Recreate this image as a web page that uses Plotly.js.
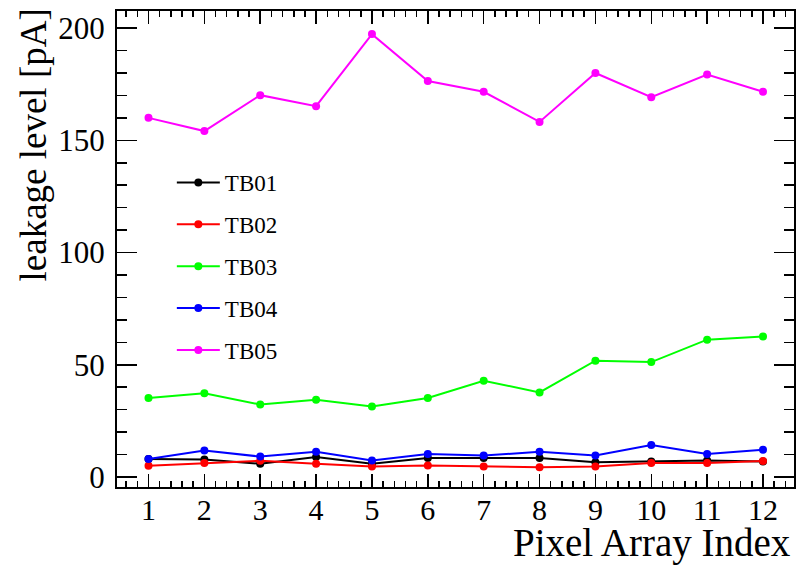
<!DOCTYPE html>
<html>
<head>
<meta charset="utf-8">
<script src="https://cdn.plot.ly/plotly-3.0.1.min.js"></script>
<style>html,body{margin:0;padding:0;background:#fff;}#chart{width:800px;height:566px;}</style>
</head>
<body>
<div id="chart"></div>
<script>
const pixelIndex = [1,2,3,4,5,6,7,8,9,10,11,12];
const xTickLabels = ["1","2","3","4","5","6","7","8","9","10","11","12"];
const seriesNames = ["TB01","TB02","TB03","TB04","TB05"];
const seriesColors = ["#000000","#ff0000","#00ff00","#0000ff","#ff00ff"];
const tb01 = [8.0, 7.8, 5.9, 8.9, 5.9, 8.5, 8.5, 8.5, 6.6, 6.9, 7.4, 6.9];
const tb02 = [5.0, 6.2, 7.2, 5.9, 4.7, 5.1, 4.7, 4.4, 4.7, 6.2, 6.2, 7.1];
const tb03 = [35.2, 37.3, 32.3, 34.4, 31.4, 35.2, 42.9, 37.7, 51.8, 51.2, 61.2, 62.6];
const tb04 = [8.0, 11.8, 9.1, 11.2, 7.4, 10.3, 9.6, 11.2, 9.6, 14.3, 10.3, 12.1];
const tb05 = [160.0, 154.1, 170.1, 165.2, 197.3, 176.4, 171.6, 158.2, 180.0, 169.2, 179.3, 171.6];
const allSeries = [tb01, tb02, tb03, tb04, tb05];

const font = "Liberation Serif, Times New Roman, serif";

const traces = allSeries.map((vals, i) => ({
  x: pixelIndex,
  y: vals,
  type: "scatter",
  mode: "lines+markers",
  name: seriesNames[i],
  legendgroup: "g" + i,
  line: {color: seriesColors[i], width: 2},
  marker: {color: seriesColors[i], size: 8, symbol: "circle"}
}));

const layout = {
  width: 800, height: 566,
  margin: {l: 117, r: 6, t: 11, b: 79},
  paper_bgcolor: "#ffffff",
  plot_bgcolor: "#ffffff",
  font: {family: font, color: "#000000"},
  showlegend: true,
  legend: {
    x: 0.081, y: 0.685, xanchor: "left", yanchor: "top",
    bgcolor: "rgba(0,0,0,0)", borderwidth: 0,
    traceorder: "grouped", tracegroupgap: 9,
    itemwidth: 43,
    font: {family: font, size: 23, color: "#000000"}
  },
  xaxis: {
    range: [0.436, 12.555],
    tickmode: "array", tickvals: pixelIndex, ticktext: xTickLabels,
    ticks: "inside", ticklen: 13, tickwidth: 1.5, tickcolor: "#000",
    minor: {dtick: 0.2, tick0: 0, ticks: "inside", ticklen: 6, tickwidth: 1.5, tickcolor: "#000"},
    showline: true, linecolor: "#000", linewidth: 2, mirror: "ticks",
    showgrid: false, zeroline: false,
    tickfont: {family: font, size: 30, color: "#000"},
    ticklabelstandoff: -5
  },
  yaxis: {
    range: [-4.45, 207.6],
    tickmode: "array", tickvals: [0,50,100,150,200],
    ticks: "inside", ticklen: 20, tickwidth: 1.5, tickcolor: "#000",
    minor: {dtick: 10, tick0: 0, ticks: "inside", ticklen: 10, tickwidth: 1.5, tickcolor: "#000"},
    showline: true, linecolor: "#000", linewidth: 2, mirror: "ticks",
    showgrid: false, zeroline: false,
    tickfont: {family: font, size: 31, color: "#000"},
    ticklabelstandoff: 4
  },
  annotations: [
    {text: "leakage level [pA]", xref: "paper", yref: "paper", x: -0.123, y: 1.01,
     xanchor: "center", yanchor: "top", textangle: -90, showarrow: false,
     font: {family: font, size: 37, color: "#000"}},
    {text: "Pixel Array Index", xref: "paper", yref: "paper", x: 0.998, y: -0.068,
     xanchor: "right", yanchor: "top", showarrow: false,
     font: {family: font, size: 39, color: "#000"}}
  ]
};

Plotly.newPlot("chart", traces, layout, {displayModeBar: false, staticPlot: true});
</script>
</body>
</html>
